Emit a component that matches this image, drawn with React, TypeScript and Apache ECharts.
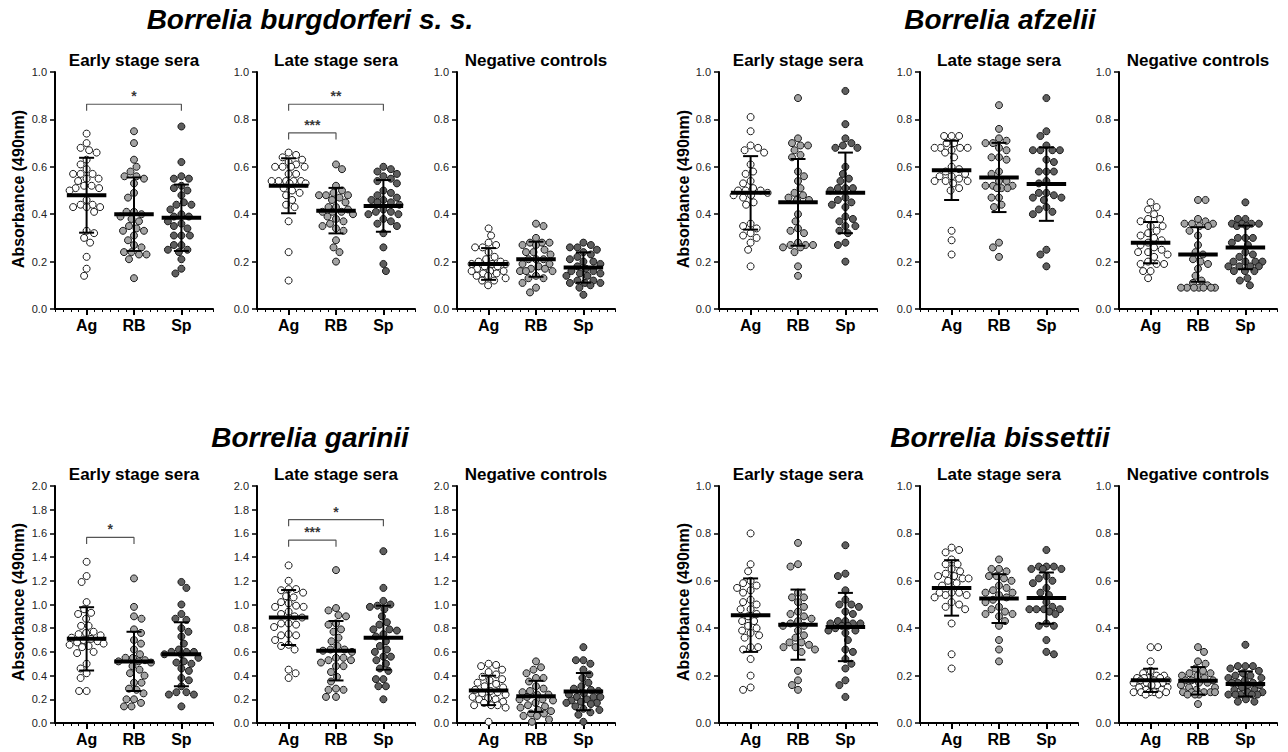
import React, { useEffect, useRef } from "react";
import * as echarts from "echarts";

const CATEGORIES = ["Ag", "RB", "Sp"];
const GROUP_TITLES = ["Borrelia burgdorferi s. s.", "Borrelia afzelii", "Borrelia garinii", "Borrelia bissettii"];
const PANEL_TITLES = ["Early stage sera", "Late stage sera", "Negative controls"];
const Y_TITLE = "Absorbance (490nm)";
const GROUP_Y_MAX = [1, 1, 2, 1];

// ---- B. burgdorferi s. s. ----
const bbEarlyAg = [0.74,0.70,0.68,0.67,0.66,0.63,0.61,0.59,0.57,0.57,0.57,0.55,0.55,0.54,0.52,0.52,0.51,0.51,0.50,0.46,0.44,0.44,0.43,0.43,0.43,0.41,0.33,0.32,0.30,0.28,0.22,0.17,0.14];
const bbEarlyRB = [0.75,0.70,0.63,0.60,0.58,0.56,0.56,0.55,0.53,0.49,0.47,0.41,0.41,0.40,0.39,0.38,0.37,0.35,0.34,0.33,0.33,0.31,0.29,0.27,0.26,0.24,0.24,0.23,0.23,0.21,0.13];
const bbEarlySp = [0.77,0.62,0.56,0.55,0.55,0.52,0.51,0.50,0.48,0.45,0.44,0.44,0.42,0.40,0.39,0.39,0.37,0.36,0.35,0.34,0.31,0.31,0.31,0.27,0.27,0.25,0.25,0.24,0.21,0.17,0.15];
const bbEarlyMean = [0.48, 0.40, 0.385];
const bbEarlySD = [0.158, 0.155, 0.14];

const bbLateAg = [0.66,0.65,0.64,0.63,0.62,0.61,0.60,0.60,0.60,0.60,0.57,0.57,0.54,0.54,0.54,0.54,0.54,0.53,0.53,0.51,0.50,0.49,0.48,0.46,0.44,0.43,0.37,0.24,0.12];
const bbLateRB = [0.61,0.59,0.52,0.50,0.49,0.48,0.48,0.48,0.47,0.46,0.45,0.43,0.43,0.42,0.41,0.41,0.41,0.40,0.39,0.38,0.37,0.36,0.35,0.34,0.33,0.29,0.26,0.24,0.20];
const bbLateSp = [0.60,0.59,0.58,0.57,0.56,0.55,0.54,0.53,0.50,0.49,0.48,0.47,0.46,0.46,0.45,0.45,0.44,0.42,0.41,0.41,0.40,0.40,0.38,0.37,0.36,0.35,0.32,0.26,0.19,0.16];
const bbLateMean = [0.52, 0.415, 0.435];
const bbLateSD = [0.116, 0.096, 0.109];

const bbNegAg = [0.34,0.31,0.28,0.27,0.26,0.26,0.24,0.22,0.21,0.20,0.20,0.19,0.19,0.19,0.18,0.18,0.17,0.16,0.16,0.16,0.15,0.15,0.14,0.14,0.13,0.12,0.12,0.10];
const bbNegRB = [0.36,0.35,0.30,0.28,0.28,0.28,0.27,0.27,0.25,0.24,0.24,0.23,0.21,0.21,0.21,0.19,0.19,0.18,0.17,0.17,0.16,0.16,0.16,0.14,0.13,0.13,0.11,0.09,0.07];
const bbNegSp = [0.28,0.27,0.26,0.26,0.25,0.24,0.23,0.22,0.21,0.20,0.20,0.19,0.18,0.17,0.16,0.16,0.15,0.15,0.14,0.14,0.12,0.12,0.11,0.11,0.11,0.10,0.09,0.06];
const bbNegMean = [0.19, 0.21, 0.175];
const bbNegSD = [0.067, 0.074, 0.064];

// ---- B. afzelii ----
const afEarlyAg = [0.81,0.75,0.69,0.68,0.67,0.66,0.61,0.58,0.57,0.54,0.53,0.51,0.50,0.50,0.50,0.49,0.48,0.48,0.47,0.45,0.44,0.36,0.35,0.34,0.32,0.31,0.30,0.28,0.25,0.18];
const afEarlyRB = [0.89,0.72,0.70,0.69,0.69,0.67,0.65,0.64,0.58,0.56,0.54,0.51,0.49,0.48,0.47,0.46,0.46,0.40,0.37,0.34,0.33,0.32,0.28,0.27,0.27,0.27,0.26,0.26,0.24,0.18,0.14];
const afEarlySp = [0.92,0.78,0.72,0.70,0.69,0.68,0.68,0.60,0.57,0.55,0.54,0.51,0.51,0.51,0.50,0.47,0.46,0.45,0.44,0.43,0.39,0.38,0.37,0.35,0.35,0.33,0.32,0.28,0.27,0.20];
const afEarlyMean = [0.49, 0.45, 0.49];
const afEarlySD = [0.155, 0.183, 0.17];

const afLateAg = [0.73,0.73,0.73,0.70,0.70,0.68,0.68,0.68,0.68,0.67,0.66,0.64,0.60,0.59,0.58,0.57,0.56,0.56,0.55,0.54,0.54,0.54,0.53,0.51,0.50,0.33,0.29,0.23];
const afLateRB = [0.86,0.76,0.72,0.71,0.70,0.70,0.68,0.67,0.64,0.64,0.63,0.58,0.57,0.54,0.54,0.52,0.52,0.52,0.51,0.51,0.51,0.47,0.47,0.44,0.43,0.28,0.26,0.22];
const afLateSp = [0.89,0.75,0.73,0.69,0.67,0.67,0.67,0.67,0.63,0.62,0.58,0.58,0.58,0.54,0.53,0.49,0.49,0.48,0.47,0.47,0.46,0.43,0.42,0.41,0.40,0.25,0.23,0.18];
const afLateMean = [0.585, 0.555, 0.527];
const afLateSD = [0.125, 0.146, 0.155];

const afNegAg = [0.45,0.43,0.42,0.40,0.38,0.38,0.37,0.35,0.35,0.33,0.32,0.31,0.30,0.29,0.28,0.27,0.26,0.25,0.24,0.24,0.23,0.22,0.20,0.19,0.19,0.19,0.16,0.16,0.13];
const afNegRB = [0.46,0.46,0.38,0.37,0.36,0.36,0.36,0.35,0.35,0.33,0.31,0.27,0.24,0.23,0.21,0.20,0.19,0.17,0.14,0.12,0.11,0.10,0.09,0.09,0.09,0.09,0.09,0.09,0.09];
const afNegSp = [0.45,0.38,0.38,0.36,0.36,0.36,0.36,0.35,0.35,0.30,0.30,0.30,0.28,0.27,0.24,0.23,0.22,0.20,0.20,0.20,0.20,0.18,0.18,0.18,0.18,0.16,0.16,0.16,0.13,0.12,0.10];
const afNegMean = [0.28, 0.23, 0.26];
const afNegSD = [0.087, 0.115, 0.092];

// ---- B. garinii ----
const gaEarlyAg = [1.36,1.24,1.19,1.02,0.96,0.93,0.92,0.88,0.82,0.82,0.77,0.76,0.75,0.74,0.72,0.71,0.70,0.69,0.68,0.67,0.66,0.65,0.64,0.60,0.59,0.50,0.46,0.42,0.38,0.27,0.27];
const gaEarlyRB = [1.22,0.98,0.90,0.88,0.79,0.76,0.70,0.67,0.62,0.58,0.55,0.55,0.53,0.52,0.52,0.51,0.48,0.45,0.42,0.40,0.34,0.34,0.29,0.28,0.25,0.20,0.20,0.17,0.14,0.14];
const gaEarlySp = [1.19,1.14,1.00,0.92,0.88,0.87,0.80,0.77,0.73,0.67,0.62,0.60,0.60,0.60,0.58,0.58,0.55,0.52,0.51,0.50,0.46,0.44,0.38,0.36,0.31,0.26,0.26,0.24,0.24,0.14];
const gaEarlyMean = [0.71, 0.52, 0.58];
const gaEarlySD = [0.267, 0.25, 0.27];

const gaLateAg = [1.33,1.20,1.13,1.13,1.12,1.10,1.07,1.06,1.02,1.01,0.99,0.98,0.98,0.94,0.92,0.90,0.89,0.84,0.84,0.83,0.81,0.75,0.74,0.74,0.70,0.66,0.65,0.62,0.45,0.42,0.38];
const gaLateRB = [1.29,0.97,0.95,0.91,0.90,0.84,0.83,0.79,0.77,0.72,0.69,0.65,0.62,0.62,0.61,0.60,0.55,0.55,0.53,0.53,0.51,0.48,0.48,0.43,0.39,0.35,0.29,0.28,0.28,0.22,0.22];
const gaLateSp = [1.45,1.14,1.03,1.00,0.99,0.98,0.96,0.90,0.85,0.83,0.79,0.79,0.78,0.75,0.73,0.69,0.65,0.62,0.60,0.56,0.56,0.53,0.50,0.46,0.44,0.37,0.37,0.31,0.31,0.20];
const gaLateMean = [0.89, 0.61, 0.72];
const gaLateSD = [0.232, 0.251, 0.27];

const gaNegAg = [0.50,0.49,0.48,0.45,0.43,0.41,0.39,0.37,0.36,0.34,0.33,0.31,0.30,0.28,0.27,0.26,0.25,0.24,0.22,0.21,0.20,0.20,0.18,0.17,0.15,0.15,0.15,0.13,0.01];
const gaNegRB = [0.52,0.47,0.45,0.42,0.38,0.38,0.35,0.31,0.29,0.27,0.26,0.24,0.24,0.22,0.20,0.20,0.19,0.17,0.15,0.14,0.13,0.11,0.10,0.08,0.08,0.06,0.06,0.03,0.01];
const gaNegSp = [0.64,0.53,0.53,0.50,0.45,0.41,0.38,0.34,0.31,0.29,0.28,0.27,0.25,0.24,0.22,0.22,0.22,0.20,0.19,0.18,0.17,0.17,0.16,0.14,0.12,0.11,0.09,0.07,0.01];
const gaNegMean = [0.275, 0.225, 0.265];
const gaNegSD = [0.124, 0.131, 0.157];

// ---- B. bissettii ----
const biEarlyAg = [0.80,0.67,0.64,0.60,0.59,0.58,0.57,0.56,0.55,0.52,0.51,0.50,0.48,0.48,0.46,0.45,0.43,0.43,0.41,0.40,0.39,0.38,0.37,0.36,0.32,0.32,0.31,0.27,0.20,0.15,0.14];
const biEarlyRB = [0.76,0.67,0.66,0.55,0.53,0.53,0.51,0.49,0.47,0.46,0.45,0.44,0.43,0.42,0.41,0.41,0.39,0.37,0.36,0.34,0.34,0.33,0.32,0.32,0.31,0.30,0.22,0.18,0.16,0.14];
const biEarlySp = [0.75,0.63,0.62,0.56,0.52,0.50,0.50,0.49,0.47,0.46,0.43,0.43,0.42,0.42,0.42,0.41,0.41,0.40,0.39,0.39,0.38,0.35,0.31,0.30,0.27,0.25,0.23,0.18,0.16,0.11];
const biEarlyMean = [0.455, 0.415, 0.405];
const biEarlySD = [0.155, 0.148, 0.144];

const biLateAg = [0.74,0.73,0.72,0.69,0.67,0.67,0.65,0.64,0.63,0.62,0.62,0.61,0.61,0.60,0.59,0.58,0.55,0.55,0.55,0.54,0.54,0.53,0.51,0.50,0.49,0.48,0.42,0.29,0.23];
const biLateRB = [0.69,0.65,0.65,0.64,0.62,0.62,0.61,0.60,0.58,0.57,0.56,0.55,0.55,0.54,0.53,0.52,0.51,0.49,0.48,0.47,0.46,0.46,0.45,0.43,0.41,0.35,0.31,0.26];
const biLateSp = [0.73,0.66,0.66,0.66,0.65,0.65,0.65,0.62,0.61,0.60,0.59,0.57,0.55,0.54,0.51,0.49,0.48,0.48,0.48,0.48,0.47,0.46,0.42,0.41,0.41,0.35,0.30,0.29];
const biLateMean = [0.57, 0.525, 0.527];
const biLateSD = [0.117, 0.103, 0.108];

const biNegAg = [0.32,0.32,0.26,0.22,0.21,0.20,0.20,0.19,0.19,0.19,0.19,0.18,0.18,0.18,0.17,0.17,0.17,0.16,0.16,0.15,0.15,0.14,0.14,0.13,0.13,0.13,0.13,0.13,0.12,0.12];
const biNegRB = [0.32,0.30,0.26,0.25,0.23,0.22,0.21,0.21,0.20,0.20,0.19,0.18,0.18,0.18,0.17,0.17,0.16,0.15,0.15,0.14,0.13,0.13,0.13,0.13,0.13,0.12,0.12,0.12,0.08];
const biNegSp = [0.33,0.24,0.24,0.24,0.23,0.22,0.21,0.20,0.20,0.19,0.19,0.18,0.17,0.17,0.17,0.16,0.16,0.15,0.14,0.14,0.13,0.13,0.12,0.12,0.12,0.12,0.12,0.10,0.09,0.09];
const biNegMean = [0.18, 0.178, 0.165];
const biNegSD = [0.049, 0.058, 0.053];

// significance brackets: panel index, from/to category, y level, label
const BRACKETS = [
  { panel: 0, from: 0, to: 2, y: 0.864, label: "*" },
  { panel: 1, from: 0, to: 2, y: 0.864, label: "**" },
  { panel: 1, from: 0, to: 1, y: 0.743, label: "***" },
  { panel: 6, from: 0, to: 1, y: 1.566, label: "*" },
  { panel: 7, from: 0, to: 2, y: 1.717, label: "*" },
  { panel: 7, from: 0, to: 1, y: 1.543, label: "***" },
];

const PANELS = [
  { g: 0, v: [bbEarlyAg, bbEarlyRB, bbEarlySp], m: bbEarlyMean, s: bbEarlySD },
  { g: 0, v: [bbLateAg, bbLateRB, bbLateSp], m: bbLateMean, s: bbLateSD },
  { g: 0, v: [bbNegAg, bbNegRB, bbNegSp], m: bbNegMean, s: bbNegSD },
  { g: 1, v: [afEarlyAg, afEarlyRB, afEarlySp], m: afEarlyMean, s: afEarlySD },
  { g: 1, v: [afLateAg, afLateRB, afLateSp], m: afLateMean, s: afLateSD },
  { g: 1, v: [afNegAg, afNegRB, afNegSp], m: afNegMean, s: afNegSD },
  { g: 2, v: [gaEarlyAg, gaEarlyRB, gaEarlySp], m: gaEarlyMean, s: gaEarlySD },
  { g: 2, v: [gaLateAg, gaLateRB, gaLateSp], m: gaLateMean, s: gaLateSD },
  { g: 2, v: [gaNegAg, gaNegRB, gaNegSp], m: gaNegMean, s: gaNegSD },
  { g: 3, v: [biEarlyAg, biEarlyRB, biEarlySp], m: biEarlyMean, s: biEarlySD },
  { g: 3, v: [biLateAg, biLateRB, biLateSp], m: biLateMean, s: biLateSD },
  { g: 3, v: [biNegAg, biNegRB, biNegSp], m: biNegMean, s: biNegSD },
];

// ---- layout ----
const FONT = "'Liberation Sans', Arial, Helvetica, sans-serif";
const COL_LEFT = [55, 257, 457, 719, 920, 1119];
const ROW_TOP = [72, 486];
const GRID_W = 158;
const GRID_H = 237;
const X_MIN = 2;
const X_MAX = 22;
const CAT_STEP = 6;
const FILLS = ["#ffffff", "#a3a3a3", "#5e5e5e"];
const DOT = 7;
const SPREAD_CAP = 17; // px, maximal horizontal spread from the category centre

function swarmOffsets(values: number[], pxPerY: number, pxPerX: number, d: number, cap: number): number[] {
  const order = values.map((_, i) => i).sort((a, b) => values[b] - values[a]);
  const placed: { x: number; y: number }[] = [];
  const out = new Array(values.length).fill(0);
  order.forEach((i, k) => {
    const y = values[i] * pxPerY;
    const cands: number[] = [0];
    for (let mag = 0.5; mag <= cap; mag += 0.5) {
      if (k % 2) cands.push(mag, -mag);
      else cands.push(-mag, mag);
    }
    let pos: number | null = null;
    let bestC = 0;
    let bestD = -1;
    for (const c of cands) {
      let minD = Infinity;
      for (const p of placed) {
        const dd = Math.hypot(p.x - c, p.y - y);
        if (dd < minD) minD = dd;
      }
      if (minD >= d) {
        pos = c;
        break;
      }
      if (minD > bestD + 0.01) {
        bestD = minD;
        bestC = c;
      }
    }
    const x = pos === null ? bestC : pos;
    placed.push({ x, y });
    out[i] = x / pxPerX;
  });
  return out;
}

function buildOption() {
  const grids: any[] = [];
  const xAxes: any[] = [];
  const yAxes: any[] = [];
  const series: any[] = [];
  const graphics: any[] = [];

  PANELS.forEach((panel, p) => {
    const row = Math.floor(p / 6);
    const col = p % 6;
    const yMax = GROUP_Y_MAX[panel.g];
    const left = COL_LEFT[col];
    const top = ROW_TOP[row];
    grids.push({ left, top, width: GRID_W, height: GRID_H, containLabel: false });
    xAxes.push({
      gridIndex: p, type: "value", min: X_MIN, max: X_MAX, interval: 1, position: "bottom",
      axisLine: { show: true, onZero: false, lineStyle: { color: "#000", width: 2 } },
      axisTick: { show: true, length: 3, lineStyle: { color: "#000", width: 1 } },
      axisLabel: { show: false }, splitLine: { show: false },
    });
    xAxes.push({
      gridIndex: p, type: "value", min: X_MIN, max: X_MAX, position: "bottom",
      axisLine: { show: false, onZero: false },
      axisTick: { show: true, customValues: [1, 2, 3].map((k) => k * CAT_STEP), length: 6, lineStyle: { color: "#000", width: 2 } },
      axisLabel: {
        show: true, customValues: [1, 2, 3].map((k) => k * CAT_STEP),
        formatter: (v: number) => CATEGORIES[Math.round(v / CAT_STEP) - 1] ?? "",
        fontFamily: FONT, fontSize: 16, fontWeight: "bold", color: "#000", margin: 8,
      },
      splitLine: { show: false },
    });
    yAxes.push({
      gridIndex: p, type: "value", min: 0, max: yMax, interval: 0.2,
      axisLine: { show: true, lineStyle: { color: "#000", width: 2 } },
      axisTick: { show: true, length: 5, lineStyle: { color: "#000", width: 1.5 } },
      axisLabel: { formatter: (v: number) => v.toFixed(1), fontFamily: FONT, fontSize: 11, color: "#222", margin: 8 },
      splitLine: { show: false },
    });

    const pxPerY = GRID_H / yMax;
    const pxPerX = GRID_W / (X_MAX - X_MIN);
    panel.v.forEach((vals, c) => {
      const offs = swarmOffsets(vals, pxPerY, pxPerX, DOT + 0.5, SPREAD_CAP);
      series.push({
        type: "scatter", xAxisIndex: 2 * p, yAxisIndex: p, silent: true, z: 2,
        symbol: "circle", symbolSize: DOT,
        itemStyle: { color: FILLS[c], borderColor: "#1a1a1a", borderWidth: 1, opacity: 1 },
        data: vals.map((v, i) => [(c + 1) * CAT_STEP + offs[i], v]),
      });
    });

    series.push({
      type: "custom", xAxisIndex: 2 * p, yAxisIndex: p, silent: true, z: 5,
      encode: { x: 0, y: 1 },
      data: CATEGORIES.map((_, c) => [(c + 1) * CAT_STEP, panel.m[c], panel.s[c]]),
      renderItem: (params: any, api: any) => {
        const x = api.value(0);
        const m = api.value(1);
        const s = api.value(2);
        const pm = api.coord([x, m]);
        const pt = api.coord([x, m + s]);
        const pb = api.coord([x, m - s]);
        const hb = api.size([2.5, 0])[0];
        const hc = api.size([0.95, 0])[0];
        const st = { stroke: "#000", lineWidth: 2 };
        return {
          type: "group",
          children: [
            { type: "line", shape: { x1: pm[0], y1: pt[1], x2: pm[0], y2: pb[1] }, style: st },
            { type: "line", shape: { x1: pm[0] - hc, y1: pt[1], x2: pm[0] + hc, y2: pt[1] }, style: st },
            { type: "line", shape: { x1: pm[0] - hc, y1: pb[1], x2: pm[0] + hc, y2: pb[1] }, style: st },
            { type: "line", shape: { x1: pm[0] - hb, y1: pm[1], x2: pm[0] + hb, y2: pm[1] }, style: { stroke: "#000", lineWidth: 4 } },
          ],
        };
      },
    });

    // panel title
    graphics.push({
      type: "text", x: left + GRID_W / 2, y: top - 12,
      style: {
        text: PANEL_TITLES[col % 3], fill: "#000", fontFamily: FONT, fontSize: 17, fontWeight: "bold",
        align: "center", verticalAlign: "middle", textAlign: "center", textVerticalAlign: "middle",
      },
    });
  });

  BRACKETS.forEach((b) => {
    const yMax = GROUP_Y_MAX[PANELS[b.panel].g];
    const drop = 0.028 * yMax;
    const x1 = (b.from + 1) * CAT_STEP;
    const x2 = (b.to + 1) * CAT_STEP;
    series.push({
      type: "line", xAxisIndex: 2 * b.panel, yAxisIndex: b.panel, silent: true, z: 4,
      symbol: "none",
      lineStyle: { color: "#555", width: 1.2 },
      data: [[x1, b.y - drop], [x1, b.y], [x2, b.y], [x2, b.y - drop]],
    });
    series.push({
      type: "scatter", xAxisIndex: 2 * b.panel, yAxisIndex: b.panel, silent: true, z: 4,
      symbolSize: 0,
      label: { show: true, position: "top", distance: 1, formatter: b.label, fontFamily: FONT, fontSize: 14, fontWeight: "bold", color: "#000" },
      data: [[(x1 + x2) / 2, b.y]],
    });
  });

  // group titles
  const groupCenters = [
    [310, 19], [1000, 19], [310, 437], [1000, 437],
  ];
  GROUP_TITLES.forEach((t, g) => {
    graphics.push({
      type: "text", x: groupCenters[g][0], y: groupCenters[g][1],
      style: {
        text: t, fill: "#000", fontFamily: FONT, fontSize: 28, fontWeight: "bold", fontStyle: "italic",
        align: "center", verticalAlign: "middle", textAlign: "center", textVerticalAlign: "middle",
      },
    });
  });
  // y axis titles
  const yTitlePos = [[18, 189], [683, 189], [18, 602], [683, 602]];
  yTitlePos.forEach(([x, y]) => {
    graphics.push({
      type: "text", x, y, rotation: Math.PI / 2,
      style: {
        text: Y_TITLE, fill: "#000", fontFamily: FONT, fontSize: 16, fontWeight: "bold",
        align: "center", verticalAlign: "middle", textAlign: "center", textVerticalAlign: "middle",
      },
    });
  });

  return {
    animation: false,
    backgroundColor: "#ffffff",
    grid: grids,
    xAxis: xAxes,
    yAxis: yAxes,
    series,
    graphic: { elements: graphics },
  };
}

export default function App() {
  const ref = useRef<HTMLDivElement>(null);
  useEffect(() => {
    if (!ref.current) return;
    const chart = echarts.init(ref.current, undefined, { renderer: "svg" });
    chart.setOption(buildOption() as any);
    return () => chart.dispose();
  }, []);
  return <div ref={ref} style={{ position: "absolute", left: 0, top: 0, width: 1288, height: 752 }} />;
}
